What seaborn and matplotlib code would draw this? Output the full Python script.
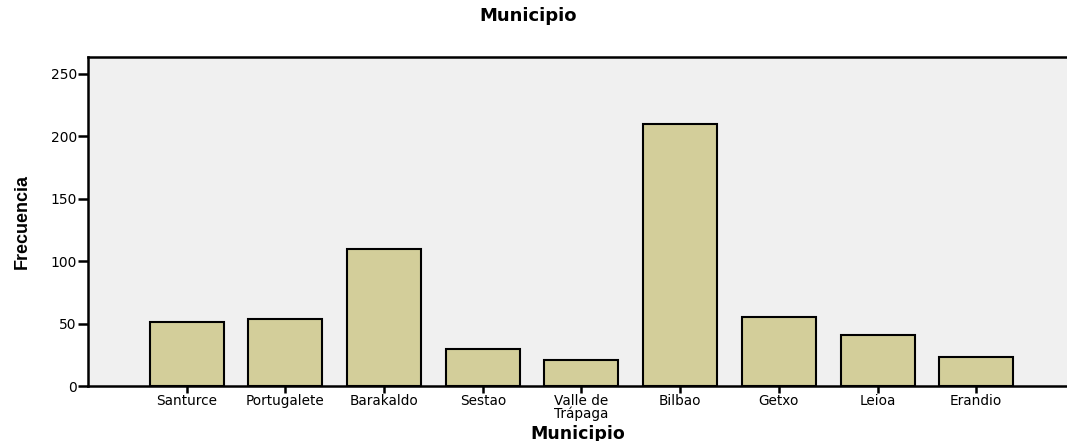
import seaborn as sns
import numpy as np
import pandas as pd
import matplotlib
matplotlib.use("Agg")
import matplotlib.pyplot as plt

# frequencies
municipios = ["Santurce", "Portugalete", "Barakaldo", "Sestao", "Valle de\nTrápaga",
              "Bilbao", "Getxo", "Leioa", "Erandio"]
frecuencias = [51, 54, 110, 30, 21, 210, 55, 41, 23]
yticks = [0, 50, 100, 150, 200, 250]

df = pd.DataFrame({"Municipio": municipios, "Frecuencia": frecuencias})

sns.set_style("white")
plt.rcParams['font.family'] = ['DejaVu Sans']
plt.rcParams['text.color'] = 'black'
plt.rcParams['axes.labelcolor'] = 'black'
plt.rcParams['xtick.color'] = 'black'
plt.rcParams['ytick.color'] = 'black'

fig = plt.figure(figsize=(10.67, 4.41), dpi=100)
ax = fig.add_axes([0.0825, 0.1247, 0.9175, 0.7460])
ax.set_facecolor("#f0f0f0")

sns.barplot(data=df, x="Municipio", y="Frecuencia", color="#d3ce9a", saturation=1,
            edgecolor="black", linewidth=1.5, width=0.75, ax=ax)

ax.set_xlim(-1.0, 8.92)
ax.set_ylim(0, 263.6)
ax.set_yticks(yticks)
ax.set_yticklabels([str(t) for t in yticks], fontsize=10)
ax.tick_params(axis="y", direction="out", length=7, width=1.8, pad=1, left=True)
ax.tick_params(axis="x", direction="out", length=5, width=1.8, pad=0.5, bottom=True,
               labelsize=9.8)
for lab in ax.get_xticklabels():
    lab.set_linespacing(0.88)

for side in ["left", "top", "bottom"]:
    ax.spines[side].set_linewidth(1.8)
    ax.spines[side].set_color("black")
ax.spines["right"].set_visible(False)

ax.set_xlabel("Municipio", fontsize=12.5, fontweight="bold")
ax.xaxis.set_label_coords(0.5, -0.118)
ax.set_ylabel("Frecuencia", fontsize=13, fontweight="bold",
              family=["Liberation Sans Narrow", "Liberation Sans"])
ax.yaxis.set_label_coords(-0.058, 0.5)

fig.suptitle("Municipio", x=0.495, y=0.985, fontsize=13, fontweight="bold")

fig.savefig("out.png", dpi=100)
